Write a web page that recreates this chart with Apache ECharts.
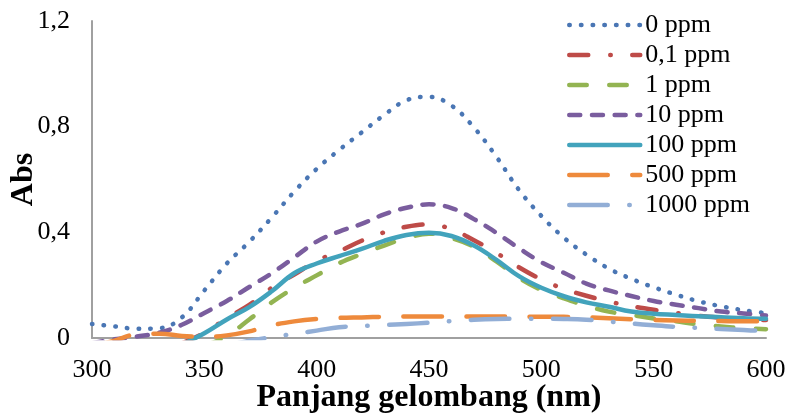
<!DOCTYPE html>
<html>
<head>
<meta charset="utf-8">
<script src="https://cdn.jsdelivr.net/npm/echarts@6/dist/echarts.min.js"></script>
<style>
html,body{margin:0;padding:0;background:#fff;}
#chart{width:787px;height:416px;}
</style>
</head>
<body>
<div id="chart"></div>
<script>
var wavelengths = [300,310,320,330,340,350,360,370,380,390,400,410,420,430,440,450,460,470,480,490,500,510,520,530,540,550,560,570,580,590,600];

var seriesNames = ['0 ppm','0,1 ppm','1 ppm','10 ppm','100 ppm','500 ppm','1000 ppm'];

var abs0 = [0.053,0.044,0.035,0.037,0.078,0.180,0.282,0.364,0.456,0.554,0.640,0.712,0.778,0.844,0.900,0.913,0.880,0.797,0.686,0.561,0.462,0.380,0.316,0.263,0.224,0.192,0.164,0.139,0.120,0.105,0.094];
var abs01 = [null,null,null,null,-0.020,0.020,0.075,0.125,0.190,0.240,0.292,0.328,0.368,0.400,0.421,0.430,0.412,0.370,0.322,0.268,0.222,0.186,0.160,0.138,0.121,0.107,0.095,0.084,0.077,0.072,0.068];
var abs1 = [null,null,null,null,null,-0.030,0.008,0.070,0.135,0.190,0.237,0.283,0.318,0.350,0.378,0.395,0.378,0.345,0.290,0.228,0.182,0.150,0.122,0.100,0.087,0.074,0.063,0.052,0.044,0.037,0.033];
var abs10 = [-0.020,-0.005,0.006,0.020,0.050,0.095,0.140,0.193,0.245,0.305,0.365,0.403,0.432,0.468,0.493,0.506,0.492,0.450,0.398,0.340,0.287,0.247,0.206,0.180,0.159,0.140,0.126,0.113,0.100,0.093,0.085];
var abs100 = [null,null,null,null,-0.025,0.018,0.070,0.117,0.177,0.245,0.282,0.310,0.337,0.368,0.390,0.398,0.386,0.350,0.296,0.234,0.190,0.158,0.135,0.118,0.100,0.092,0.087,0.082,0.079,0.075,0.073];
var abs500 = [-0.030,-0.010,0.014,0.016,0.008,0.004,0.010,0.025,0.048,0.063,0.072,0.076,0.078,0.080,0.081,0.081,0.081,0.081,0.081,0.081,0.080,0.080,0.078,0.075,0.071,0.068,0.066,0.065,0.064,0.063,0.063];
var abs1000 = [null,null,null,null,null,null,-0.030,-0.010,0.003,0.016,0.028,0.041,0.045,0.049,0.053,0.058,0.064,0.069,0.072,0.073,0.073,0.072,0.069,0.062,0.055,0.048,0.042,0.038,0.034,0.030,0.026];

var xTicks = [300,350,400,450,500,550,600];
var xTickLabels = ['300','350','400','450','500','550','600'];
var yTicks = [0,0.4,0.8,1.2];
var yTickLabels = ['0','0,4','0,8','1,2'];

var colors = ['#4A76B4','#BE4B48','#93B452','#7A5D9E','#42A3BC','#EE8A3C','#92AED6'];
var dashes = [
  [0.5,11.2],
  [19,22,0.5,21.5],
  [17.5,22.5],
  [11,11.7],
  'solid',
  [38.5,24.5],
  [38.5,21.5,0.5,21.5]
];
var allData = [abs0,abs01,abs1,abs10,abs100,abs500,abs1000];

function pairs(arr){
  return wavelengths.map(function(w,i){ return [w, arr[i]]; });
}
function lookup(ticks, labels, v){
  for (var i=0;i<ticks.length;i++){ if (Math.abs(ticks[i]-v) < 1e-6) return labels[i]; }
  return '';
}

var serif = '"Liberation Serif", "Times New Roman", serif';

var series = seriesNames.map(function(name, i){
  return {
    name: name,
    type: 'line',
    data: pairs(allData[i]),
    symbol: 'none',
    showSymbol: false,
    smooth: 0.4,
    connectNulls: false,
    clip: true,
    lineStyle: {
      color: colors[i],
      width: 4.5,
      type: dashes[i],
      cap: 'round',
      join: 'round'
    },
    itemStyle: { color: colors[i] }
  };
});

var chart = echarts.init(document.getElementById('chart'), null, {renderer:'canvas'});
chart.setOption({
  animation: false,
  backgroundColor: '#ffffff',
  grid: { left: 92, right: 21, top: 21, bottom: 78, containLabel: false, outerBoundsMode: 'none' },
  xAxis: {
    type: 'value', min: 300, max: 600, interval: 50,
    name: 'Panjang gelombang (nm)', nameLocation: 'middle', nameGap: 44, nameMoveOverlap: false,
    nameTextStyle: { fontFamily: serif, fontSize: 32, fontWeight: 'bold', color: '#000' },
    axisLine: { show: true, lineStyle: { color: '#a0a0a0', width: 2 } },
    axisTick: { show: false },
    splitLine: { show: false },
    axisLabel: { fontFamily: serif, fontSize: 26, color: '#000', margin: 19,
      formatter: function(v){ return lookup(xTicks, xTickLabels, v); } }
  },
  yAxis: {
    type: 'value', min: 0, max: 1.2, interval: 0.4,
    name: 'Abs', nameLocation: 'middle', nameGap: 52, nameRotate: 90, nameMoveOverlap: false,
    nameTextStyle: { fontFamily: serif, fontSize: 32, fontWeight: 'bold', color: '#000' },
    axisLine: { show: true, lineStyle: { color: '#a0a0a0', width: 2 } },
    axisTick: { show: false },
    splitLine: { show: false },
    axisLabel: { fontFamily: serif, fontSize: 26, color: '#000', margin: 22,
      formatter: function(v){ return lookup(yTicks, yTickLabels, v); } }
  },
  legend: {
    orient: 'vertical', left: 567, top: 12, padding: 0,
    itemWidth: 71, itemHeight: 14, itemGap: 4,
    itemStyle: { opacity: 0 },
    lineStyle: { width: 4.5, cap: 'round', join: 'round' },
    textStyle: { fontFamily: serif, fontSize: 26, color: '#000', lineHeight: 26 },
    data: seriesNames
  },
  series: series
});
</script>
</body>
</html>
